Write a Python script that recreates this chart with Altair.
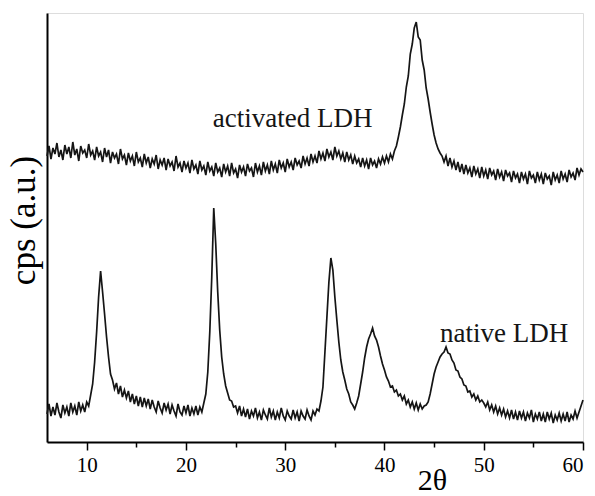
import altair as alt
import numpy as np
import pandas as pd

# 2-theta sampling grid (degrees), 6 .. 60 in 0.2 steps
two_theta = np.round(np.arange(6.0, 60.0001, 0.2), 1)

# native LDH intensity (a.u.)
native = [
    28, 38, 26, 35, 27, 39, 30, 24, 37, 29,
    35, 26, 39, 30, 36, 27, 40, 31, 37, 30,
    40, 36, 47, 58, 80, 110, 145, 171, 150, 128,
    105, 85, 68, 62, 53, 59, 48, 56, 45, 52,
    44, 51, 40, 48, 38, 46, 36, 45, 35, 44,
    36, 43, 33, 42, 35, 30, 41, 34, 29, 39,
    32, 38, 28, 37, 31, 26, 38, 30, 27, 36,
    29, 37, 26, 34, 28, 36, 27, 35, 30, 39,
    48, 70, 110, 165, 234, 198, 150, 112, 85, 68,
    56, 49, 42, 41, 35, 36, 29, 36, 26, 33,
    25, 33, 23, 31, 26, 34, 24, 30, 22, 32,
    27, 23, 34, 25, 31, 22, 30, 24, 34, 26,
    22, 31, 26, 23, 32, 24, 30, 21, 31, 26,
    23, 32, 26, 22, 31, 27, 33, 31, 41, 55,
    90, 125, 160, 184, 172, 145, 122, 100, 82, 70,
    62, 53, 48, 40, 37, 33, 39, 46, 58, 70,
    84, 95, 103, 108, 114, 106, 102, 95, 86, 78,
    72, 65, 61, 55, 56, 50, 52, 46, 48, 42,
    46, 38, 42, 35, 40, 33, 39, 32, 38, 33,
    36, 37, 40, 48, 58, 68, 75, 80, 85, 88,
    90, 95, 89, 88, 82, 79, 72, 71, 65, 63,
    57, 56, 50, 51, 45, 48, 42, 46, 40, 42,
    39, 35, 40, 32, 37, 30, 36, 28, 34, 27,
    33, 25, 31, 24, 32, 23, 30, 22, 31, 24,
    30, 21, 29, 24, 32, 20, 28, 23, 30, 21,
    28, 20, 30, 23, 29, 19, 27, 22, 29, 21,
    28, 21, 30, 20, 27, 23, 31, 24, 30, 36,
    42,
]

# activated LDH intensity (a.u.) (offset trace)
activated = [
    286, 296, 283, 294, 288, 299, 285, 292, 282, 297,
    288, 295, 284, 300, 287, 293, 281, 296, 289, 292,
    284, 298, 287, 291, 282, 295, 286, 290, 280, 294,
    285, 292, 279, 290, 284, 288, 278, 293, 283, 287,
    277, 289, 281, 286, 276, 290, 280, 284, 275, 288,
    279, 285, 274, 283, 278, 287, 273, 282, 277, 284,
    272, 283, 276, 280, 271, 286, 275, 279, 270, 281,
    274, 279, 269, 282, 273, 277, 268, 281, 272, 276,
    267, 280, 271, 275, 266, 279, 270, 274, 265, 278,
    270, 276, 266, 279, 269, 273, 264, 277, 270, 275,
    266, 278, 271, 274, 265, 279, 270, 276, 267, 280,
    271, 277, 268, 281, 272, 278, 269, 282, 274, 279,
    270, 283, 275, 280, 272, 284, 277, 281, 274, 286,
    278, 284, 276, 288, 280, 286, 279, 291, 283, 289,
    281, 293, 285, 290, 282, 295, 286, 291, 283, 289,
    280, 290, 282, 287, 278, 286, 279, 283, 275, 284,
    276, 282, 273, 284, 277, 281, 274, 283, 278, 285,
    279, 286, 280, 288, 283, 291, 296, 305, 315, 327,
    338, 355, 366, 388, 398, 414, 420, 405, 402, 382,
    372, 354, 343, 330, 318, 307, 299, 293, 289, 286,
    280, 286, 276, 284, 275, 281, 272, 280, 270, 278,
    268, 277, 269, 274, 265, 276, 268, 273, 264, 275,
    266, 272, 263, 274, 267, 271, 262, 273, 265, 270,
    261, 272, 266, 269, 260, 271, 264, 268, 259, 270,
    263, 268, 258, 271, 264, 267, 259, 270, 262, 268,
    258, 269, 263, 266, 257, 270, 262, 267, 259, 271,
    263, 268, 260, 272, 265, 269, 262, 274, 267, 273,
    270,
]

label_text = ["activated LDH", "native LDH"]
label_x = [22.7, 45.6]
label_y = [315, 100]

x_ticks = [10, 15, 20, 25, 30, 35, 40, 45, 50, 55, 60]

df = pd.concat([
    pd.DataFrame({"tt": two_theta, "cps": native, "series": "native"}),
    pd.DataFrame({"tt": two_theta, "cps": activated, "series": "activated"}),
])
labels = pd.DataFrame({"text": label_text, "tt": label_x, "cps": label_y})

FONT = "Liberation Serif"

xscale = alt.Scale(domain=[6, 60], nice=False, zero=False)
yscale = alt.Scale(domain=[0, 429], nice=False, zero=False)

lines = alt.Chart(df).mark_line(color="#151515", strokeWidth=1.7).encode(
    x=alt.X("tt:Q", scale=xscale,
            axis=alt.Axis(
                values=x_ticks,
                labelExpr="datum.value % 10 === 0 ? datum.label : ''",
                tickSize={"condition": {"test": "datum.value % 10 === 0", "value": 8}, "value": 5},
                tickWidth=1.5, tickColor="black",
                domainColor="black", domainWidth=2,
                grid=False,
                labelFont=FONT, labelFontSize=21, labelColor="black", labelPadding=4,
                title="2θ", titleFont=FONT, titleFontSize=30, titleFontWeight="normal",
                titleColor="black", titleX=385, titleY=47, titleAlign="center",
                titleBaseline="alphabetic",
            )),
    y=alt.Y("cps:Q", scale=yscale,
            axis=alt.Axis(
                ticks=False, labels=False, grid=False,
                domainColor="black", domainWidth=2,
                title="cps (a.u.)", titleFont=FONT, titleFontSize=35,
                titleFontWeight="normal", titleColor="black", titlePadding=6,
                titleY=207,
            )),
    detail="series:N",
)

text = alt.Chart(labels).mark_text(
    font=FONT, fontSize=27, align="left", baseline="alphabetic", color="#151515"
).encode(x=alt.X("tt:Q", scale=xscale), y=alt.Y("cps:Q", scale=yscale), text="text:N")

chart = alt.layer(lines, text).properties(
    width=536, height=429,
    autosize=alt.AutoSizeParams(type="none"),
    padding={"left": 47, "top": 13, "right": 12, "bottom": 54},
).configure_view(stroke=None).configure(background="white")

chart.save("out.html", embed_options={"renderer": "svg", "actions": False})
